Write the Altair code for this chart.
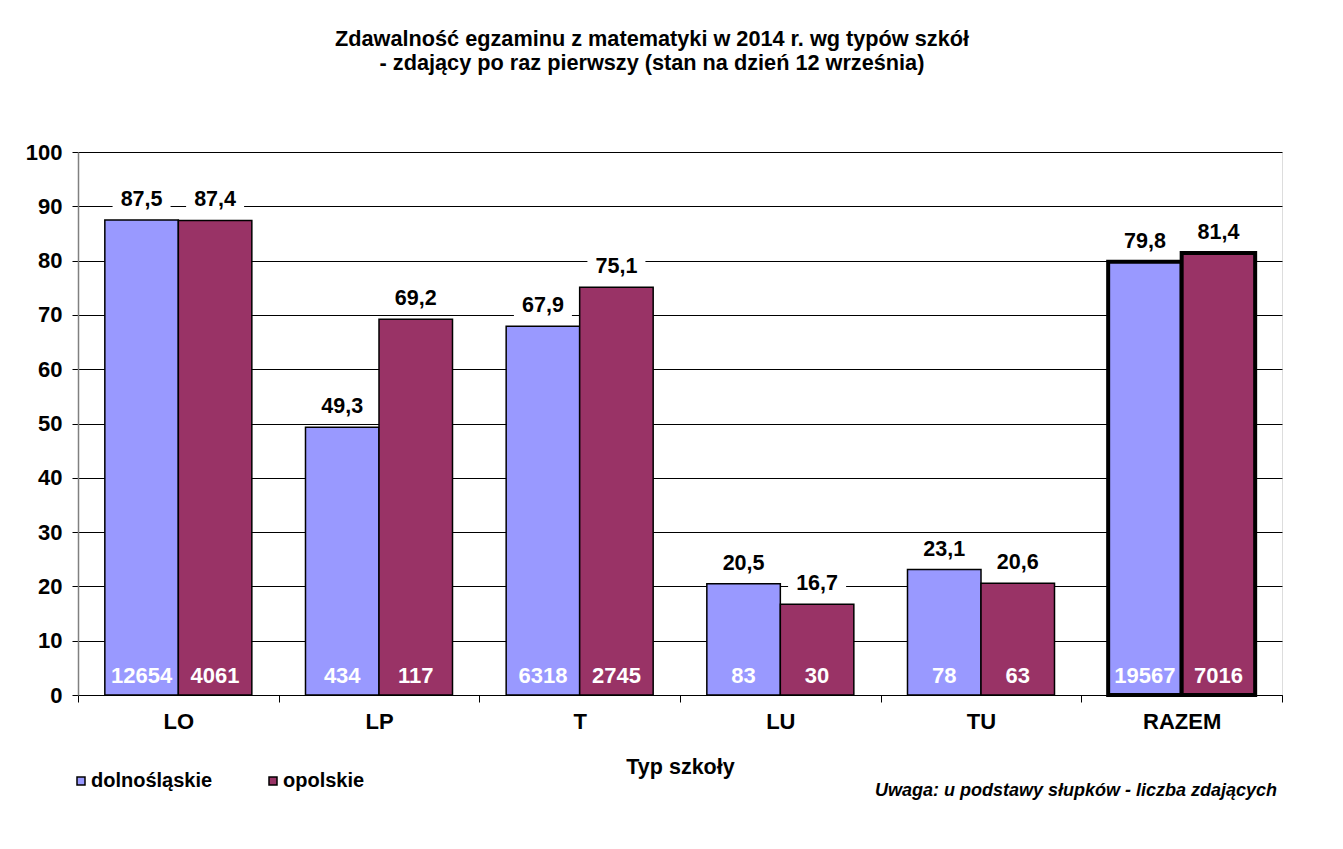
import altair as alt
import pandas as pd

categories = ["LO", "LP", "T", "LU", "TU", "RAZEM"]
regions = ["dolnośląskie", "opolskie"]
pct_dol = [87.5, 49.3, 67.9, 20.5, 23.1, 79.8]
pct_opo = [87.4, 69.2, 75.1, 16.7, 20.6, 81.4]
n_dol = [12654, 434, 6318, 83, 78, 19567]
n_opo = [4061, 117, 2745, 30, 63, 7016]
y_ticks = list(range(0, 101, 10))
title_lines = ["Zdawalność egzaminu z matematyki w 2014 r. wg typów szkół",
               "- zdający po raz pierwszy (stan na dzień 12 września)"]
note = ["Uwaga: u podstawy słupków - liczba zdających"]

rows = []
for i, c in enumerate(categories):
    for r, p, n in ((regions[0], pct_dol[i], n_dol[i]), (regions[1], pct_opo[i], n_opo[i])):
        rows.append({"typ": c, "region": r, "pct": p, "n": n,
                     "label": f"{p:.1f}".replace(".", ",")})
df = pd.DataFrame(rows)

FONT = "Liberation Sans"
W, H = 1204, 543

x = alt.X("typ:N", sort=categories, title="Typ szkoły",
          scale=alt.Scale(paddingInner=0, paddingOuter=0),
          axis=alt.Axis(tickBand="extent", labelAngle=0, labelFontSize=22,
                        labelFontWeight="bold", labelFont=FONT, labelColor="black",
                        labelPadding=9, tickSize=7, tickColor="black", tickWidth=1,
                        domainColor="black", domainWidth=1,
                        titleFontSize=21.5, titleFontWeight="bold", titleFont=FONT,
                        titleColor="black", titlePadding=24))
xo = alt.XOffset("region:N", sort=regions,
                 scale=alt.Scale(paddingInner=0, paddingOuter=0.365))
y_axis = alt.Axis(values=y_ticks, labelFontSize=22, labelFontWeight="bold",
                  labelFont=FONT, labelColor="black", labelPadding=10,
                  tickSize=6, tickColor="black", tickWidth=1,
                  domainColor="#808080", domainWidth=1.5,
                  grid=True, gridColor="black", gridWidth=1, gridOpacity=1)
yscale = alt.Scale(domain=[0, 100])

base = alt.Chart(df)

bars = base.mark_bar(stroke="black", opacity=1).encode(
    x=x,
    xOffset=xo,
    y=alt.Y("pct:Q", scale=yscale, title=None, axis=y_axis),
    color=alt.Color("region:N", sort=regions,
                    scale=alt.Scale(domain=regions, range=["#9999FF", "#993366"]),
                    legend=alt.Legend(orient="none", legendX=-7, legendY=619,
                                      direction="horizontal", title=None,
                                      labelFontSize=20, labelFontWeight="bold",
                                      labelFont=FONT, labelColor="black",
                                      symbolType="square", symbolSize=64,
                                      symbolStrokeColor="black", symbolStrokeWidth=1.5,
                                      symbolOpacity=1, columnPadding=50,
                                      labelOffset=0, padding=0)),
    strokeWidth=alt.condition("datum.typ === 'RAZEM'", alt.value(4), alt.value(1.5)),
)

boxes = base.mark_point(
    shape="M-1,-0.4L1,-0.4L1,0.4L-1,0.4Z", size=3364, filled=True,
    fill="white", opacity=1, strokeWidth=0, yOffset=-20,
).encode(x=x, xOffset=xo, y=alt.Y("pct:Q", scale=yscale))

vals = base.mark_text(fontSize=21.5, fontWeight="bold", font=FONT, color="black",
                      baseline="middle", dy=-20).encode(
    x=x, xOffset=xo, y=alt.Y("pct:Q", scale=yscale), text="label:N")

counts = base.mark_text(fontSize=22, fontWeight="bold", font=FONT, color="white",
                        baseline="middle", dy=-19).encode(
    x=x, xOffset=xo, y=alt.datum(0), text="n:N")

note_layer = alt.Chart(pd.DataFrame({"t": note})).mark_text(
    align="right", baseline="middle", fontSize=18, fontStyle="italic",
    fontWeight="bold", font=FONT, color="black").encode(
    x=alt.value(W - 5), y=alt.value(H + 96), text="t:N")

chart = alt.layer(bars, boxes, vals, counts, note_layer).properties(
    width=W, height=H,
    autosize=alt.AutoSizeParams(type="none"),
    padding={"left": 70, "top": 144, "right": 50, "bottom": 130},
    title=alt.TitleParams(title_lines, fontSize=21.7, font=FONT, fontWeight="bold",
                          color="black", anchor="middle", offset=66, dx=-28,
                          lineHeight=24),
).configure_view(strokeWidth=0).configure(background="white")

chart.save("out.html", embed_options={"renderer": "svg", "actions": False})
